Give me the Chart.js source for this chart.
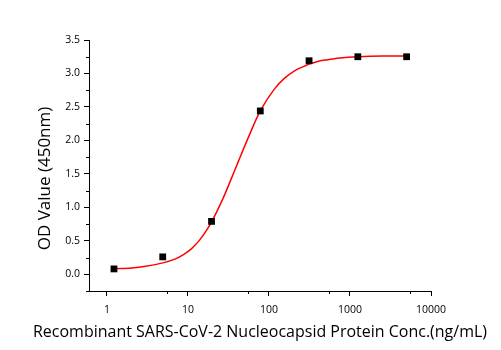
<!DOCTYPE html>
<html>
<head>
<meta charset="utf-8">
<script src="https://cdn.jsdelivr.net/npm/chart.js@4.4.1/dist/chart.umd.min.js"></script>
<style>
html,body{margin:0;padding:0;background:#fff;}
#wrap{width:501px;height:350px;position:relative;}
</style>
</head>
<body>
<div id="wrap"><canvas id="c" width="501" height="350"></canvas></div>
<script>
// Measured points (concentration ng/mL, OD450)
const pointConc = [1.22, 4.88, 19.53, 78.125, 312.5, 1250, 5000];
const pointOD   = [0.08, 0.26, 0.79, 2.44, 3.19, 3.25, 3.25];

// Fitted curve
const curveConc = [1.22, 2, 3, 4.9, 7, 8.7, 11, 13.9, 17, 19.5, 27, 33, 42, 55, 78, 117, 156, 207, 275, 312.5, 400, 500, 750, 1250, 2500, 5000];
const curveOD   = [0.08, 0.095, 0.12, 0.17, 0.23, 0.29, 0.38, 0.51, 0.66, 0.78, 1.13, 1.38, 1.69, 2.03, 2.44, 2.77, 2.93, 3.04, 3.11, 3.14, 3.18, 3.20, 3.23, 3.25, 3.26, 3.26];

// Tick values
const xMajorTicks = [1, 10, 100, 1000, 10000];
const xMinorTicks = [5.5, 55, 550, 5500];
const yMajorTicks = [0, 0.5, 1.0, 1.5, 2.0, 2.5, 3.0, 3.5];
const yMinorTicks = [-0.25, 0.25, 0.75, 1.25, 1.75, 2.25, 2.75, 3.25];

const xTitle = 'Recombinant SARS-CoV-2 Nucleocapsid Protein Conc.(ng/mL)';
const yTitle = 'OD Value (450nm)';

const FONT = '"Open Sans", Lato, sans-serif';
const TITLE_SIZE = 17;
const TICK_SIZE = 10.5;

const extrasPlugin = {
  id: 'extras',
  afterDraw(chart) {
    const ctx = chart.ctx;
    const xs = chart.scales.x, ys = chart.scales.y;
    const area = chart.chartArea;
    ctx.save();
    // minor ticks
    ctx.strokeStyle = '#000';
    ctx.lineWidth = 1;
    ctx.beginPath();
    xMinorTicks.forEach(v => {
      const px = Math.round(xs.getPixelForValue(v)) + 0.5;
      ctx.moveTo(px, area.bottom);
      ctx.lineTo(px, area.bottom + 3);
    });
    yMinorTicks.forEach(v => {
      const py = Math.round(ys.getPixelForValue(v)) + 0.5;
      ctx.moveTo(area.left, py);
      ctx.lineTo(area.left - 3, py);
    });
    ctx.stroke();
    // titles
    ctx.fillStyle = '#000';
    ctx.font = TITLE_SIZE + 'px ' + FONT;
    ctx.textAlign = 'center';
    ctx.textBaseline = 'middle';
    ctx.fillText(xTitle, (area.left + area.right) / 2, area.bottom + 41, 454);
    ctx.translate(area.left - 44, (area.top + area.bottom) / 2 + 13);
    ctx.rotate(-Math.PI / 2);
    ctx.fillText(yTitle, 0, 0);
    ctx.restore();
  }
};

new Chart(document.getElementById('c'), {
  type: 'scatter',
  data: {
    datasets: [
      {
        label: 'points',
        data: pointConc.map((x, i) => ({x, y: pointOD[i]})),
        pointStyle: 'rect',
        pointRadius: 4.8,
        backgroundColor: '#000',
        borderColor: '#000',
        borderWidth: 0,
        showLine: false,
        order: 0
      },
      {
        label: 'fit',
        data: curveConc.map((x, i) => ({x, y: curveOD[i]})),
        showLine: true,
        borderColor: '#ff0000',
        borderWidth: 1.5,
        pointRadius: 0,
        cubicInterpolationMode: 'monotone',
        order: 1
      }
    ]
  },
  options: {
    responsive: false,
    animation: false,
    devicePixelRatio: 1,
    layout: {padding: {top: 40, right: 70, left: 0, bottom: 0}},
    plugins: {legend: {display: false}, tooltip: {enabled: false}},
    scales: {
      x: {
        type: 'logarithmic',
        min: 0.6,
        max: 10000,
        afterBuildTicks(s) { s.ticks = xMajorTicks.map(v => ({value: v})); },
        afterFit(s) { s.height = 59; },
        border: {display: true, color: '#000', width: 1},
        grid: {display: true, drawOnChartArea: false, drawTicks: true, tickLength: 5, tickColor: '#000'},
        ticks: {
          color: '#000',
          font: {family: FONT, size: TICK_SIZE},
          padding: 8,
          maxRotation: 0,
          autoSkip: false,
          callback: (v) => String(v)
        },
        title: {display: false}
      },
      y: {
        type: 'linear',
        min: -0.25,
        max: 3.5,
        afterBuildTicks(s) { s.ticks = yMajorTicks.map(v => ({value: v})); },
        afterFit(s) { s.width = 89; },
        border: {display: true, color: '#000', width: 1},
        grid: {display: true, drawOnChartArea: false, drawTicks: true, tickLength: 5, tickColor: '#000'},
        ticks: {
          color: '#000',
          font: {family: FONT, size: TICK_SIZE},
          padding: 4,
          autoSkip: false,
          callback: (v) => Number(v).toFixed(1)
        },
        title: {display: false}
      }
    }
  },
  plugins: [extrasPlugin]
});
</script>
</body>
</html>
